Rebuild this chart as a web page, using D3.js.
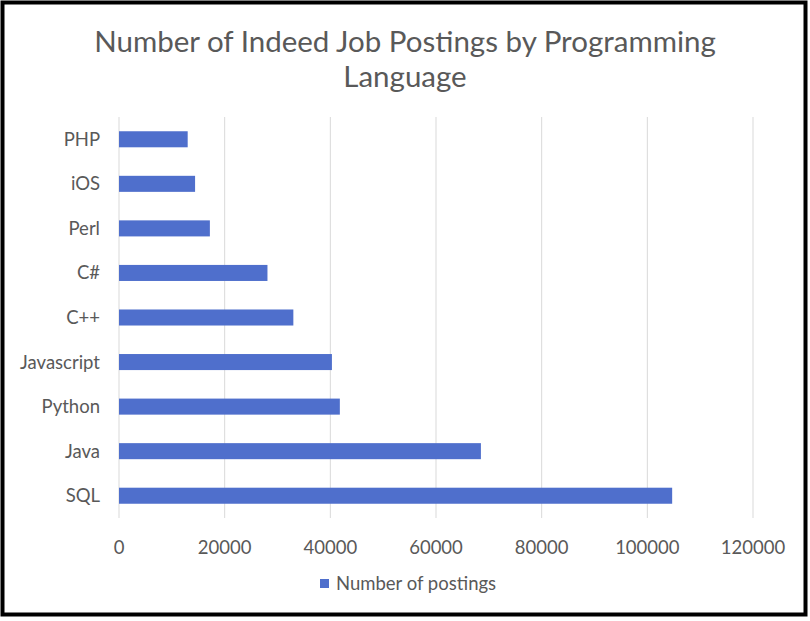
<!DOCTYPE html>
<html>
<head>
<meta charset="utf-8">
<script src="https://cdn.jsdelivr.net/npm/d3@7"></script>
<style>
body { margin: 0; background: #fff; }
text { font-family: Lato, "Open Sans", sans-serif; fill: #595959; }
</style>
</head>
<body>
<svg id="chart" width="810" height="621"></svg>
<script>
var languages = ["PHP", "iOS", "Perl", "C#", "C++", "Javascript", "Python", "Java", "SQL"];
var postings = [13000, 14400, 17200, 28100, 33000, 40300, 41800, 68500, 104700];
var ticks = [0, 20000, 40000, 60000, 80000, 100000, 120000];

var svg = d3.select("#chart");
svg.append("rect").attr("x", 2.5).attr("y", 2.5).attr("width", 803).attr("height", 612)
  .attr("fill", "#fff").attr("stroke", "#000").attr("stroke-width", 4);

var x = d3.scaleLinear().domain([0, 120000]).range([119, 753]);
var y = d3.scaleBand().domain(languages).range([117, 518]).paddingInner(0.64).paddingOuter(0.32);

svg.selectAll(".grid").data(ticks).join("line")
  .attr("x1", d => x(d)).attr("x2", d => x(d))
  .attr("y1", 117).attr("y2", 518)
  .attr("stroke", "#d9d9d9").attr("stroke-width", 1);

svg.selectAll(".bar").data(languages).join("rect")
  .attr("x", x(0)).attr("y", d => y(d))
  .attr("width", (d, i) => x(postings[i]) - x(0))
  .attr("height", y.bandwidth())
  .attr("fill", "#4f6fcc");

svg.selectAll(".cat").data(languages).join("text")
  .attr("x", 100).attr("y", d => y(d) + y.bandwidth() / 2)
  .attr("dy", "0.35em").attr("text-anchor", "end")
  .attr("font-size", 18.5).text(d => d);

svg.selectAll(".tick").data(ticks).join("text")
  .attr("x", d => x(d)).attr("y", 554).attr("text-anchor", "middle")
  .attr("font-size", 18.5).text(d => d);

svg.append("text").attr("x", 405).attr("y", 52).attr("text-anchor", "middle")
  .attr("font-size", 29.5).text("Number of Indeed Job Postings by Programming");
svg.append("text").attr("x", 405).attr("y", 87).attr("text-anchor", "middle")
  .attr("font-size", 29.5).text("Language");

svg.append("rect").attr("x", 320).attr("y", 579).attr("width", 9).attr("height", 9).attr("fill", "#4f6fcc");
svg.append("text").attr("x", 336).attr("y", 584).attr("dy", "0.35em")
  .attr("font-size", 18.5).text("Number of postings");
</script>
</body>
</html>
